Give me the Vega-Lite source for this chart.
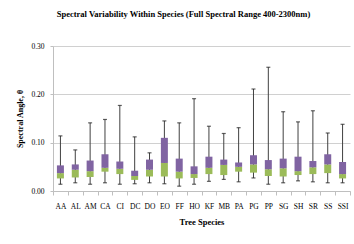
{
  "$schema": "https://vega.github.io/schema/vega-lite/v6.json",
  "width": 297,
  "height": 145,
  "autosize": {"type": "none"},
  "padding": {"left": 53, "top": 46, "right": 4, "bottom": 53},
  "background": "white",
  "title": {
    "text": "Spectral Variability Within Species (Full Spectral Range 400-2300nm)",
    "font": "Liberation Serif",
    "fontSize": 8.5,
    "fontWeight": "bold",
    "color": "#000000",
    "anchor": "middle",
    "frame": "group",
    "dx": -18,
    "baseline": "alphabetic",
    "offset": 17
  },
  "data": {
    "values": [
      {"species": "AA", "min": 0.014, "q1": 0.026, "median": 0.037, "q3": 0.053, "max": 0.114},
      {"species": "AL", "min": 0.017, "q1": 0.028, "median": 0.044, "q3": 0.055, "max": 0.085},
      {"species": "AM", "min": 0.014, "q1": 0.029, "median": 0.041, "q3": 0.063, "max": 0.141},
      {"species": "CA", "min": 0.017, "q1": 0.040, "median": 0.048, "q3": 0.076, "max": 0.148},
      {"species": "CI", "min": 0.014, "q1": 0.035, "median": 0.046, "q3": 0.061, "max": 0.177},
      {"species": "DC", "min": 0.015, "q1": 0.023, "median": 0.031, "q3": 0.042, "max": 0.112},
      {"species": "DO", "min": 0.017, "q1": 0.030, "median": 0.044, "q3": 0.065, "max": 0.079},
      {"species": "EO", "min": 0.015, "q1": 0.030, "median": 0.058, "q3": 0.110, "max": 0.145},
      {"species": "FF", "min": 0.010, "q1": 0.026, "median": 0.040, "q3": 0.067, "max": 0.141},
      {"species": "HO", "min": 0.014, "q1": 0.027, "median": 0.035, "q3": 0.051, "max": 0.191},
      {"species": "KF", "min": 0.020, "q1": 0.035, "median": 0.048, "q3": 0.071, "max": 0.134},
      {"species": "MB", "min": 0.024, "q1": 0.033, "median": 0.054, "q3": 0.065, "max": 0.119},
      {"species": "PA", "min": 0.019, "q1": 0.040, "median": 0.050, "q3": 0.059, "max": 0.131},
      {"species": "PG", "min": 0.027, "q1": 0.038, "median": 0.055, "q3": 0.074, "max": 0.211},
      {"species": "PP", "min": 0.014, "q1": 0.031, "median": 0.045, "q3": 0.064, "max": 0.256},
      {"species": "SG", "min": 0.017, "q1": 0.030, "median": 0.047, "q3": 0.067, "max": 0.164},
      {"species": "SH", "min": 0.021, "q1": 0.033, "median": 0.041, "q3": 0.071, "max": 0.143},
      {"species": "SR", "min": 0.019, "q1": 0.035, "median": 0.049, "q3": 0.062, "max": 0.166},
      {"species": "SS", "min": 0.017, "q1": 0.037, "median": 0.055, "q3": 0.076, "max": 0.120},
      {"species": "SSI", "min": 0.017, "q1": 0.026, "median": 0.035, "q3": 0.060, "max": 0.138}
    ]
  },
  "encoding": {
    "x": {
      "field": "species",
      "type": "nominal",
      "sort": null,
      "scale": {"paddingInner": 0, "paddingOuter": 0},
      "axis": {
        "title": "Tree Species",
        "titleFont": "Liberation Serif",
        "titleFontSize": 8.5,
        "titleFontWeight": "bold",
        "titleColor": "#000000",
        "titlePadding": 8,
        "labelFont": "Liberation Sans Narrow",
        "labelFontSize": 7.5,
        "labelColor": "#000000",
        "labelAngle": 0,
        "labelPadding": 7,
        "tickBand": "extent",
        "tickSize": 4,
        "tickColor": "#bfbfbf",
        "domainColor": "#bfbfbf",
        "grid": false
      }
    }
  },
  "layer": [
    {
      "mark": {"type": "rule", "color": "#404040", "strokeWidth": 1},
      "encoding": {
        "y": {
          "field": "min",
          "type": "quantitative",
          "scale": {"domain": [0, 0.3]},
          "axis": {
            "title": "Spectral Angle, θ",
            "titleFont": "Liberation Serif",
            "titleFontSize": 8,
            "titleFontWeight": "bold",
            "titleColor": "#000000",
            "titlePadding": 6,
            "values": [0, 0.05, 0.1, 0.15, 0.2, 0.25, 0.3],
            "format": ".2f",
            "labelFont": "Liberation Sans Narrow",
            "labelFontSize": 7.5,
            "labelColor": "#000000",
            "labelPadding": 6,
            "tickSize": 3,
            "tickColor": "#bfbfbf",
            "domainColor": "#bfbfbf",
            "gridColor": "#d0d0d0",
            "grid": true
          }
        },
        "y2": {"field": "max"}
      }
    },
    {
      "mark": {"type": "tick", "color": "#202020", "thickness": 1.2, "size": 4},
      "encoding": {"y": {"field": "min", "type": "quantitative"}}
    },
    {
      "mark": {"type": "tick", "color": "#202020", "thickness": 1.2, "size": 4},
      "encoding": {"y": {"field": "max", "type": "quantitative"}}
    },
    {
      "mark": {"type": "bar", "color": "#9BBB59", "size": 7},
      "encoding": {
        "y": {"field": "q1", "type": "quantitative"},
        "y2": {"field": "median"}
      }
    },
    {
      "mark": {"type": "bar", "color": "#8064A2", "size": 7},
      "encoding": {
        "y": {"field": "median", "type": "quantitative"},
        "y2": {"field": "q3"}
      }
    }
  ],
  "config": {
    "view": {"stroke": null}
  }
}
